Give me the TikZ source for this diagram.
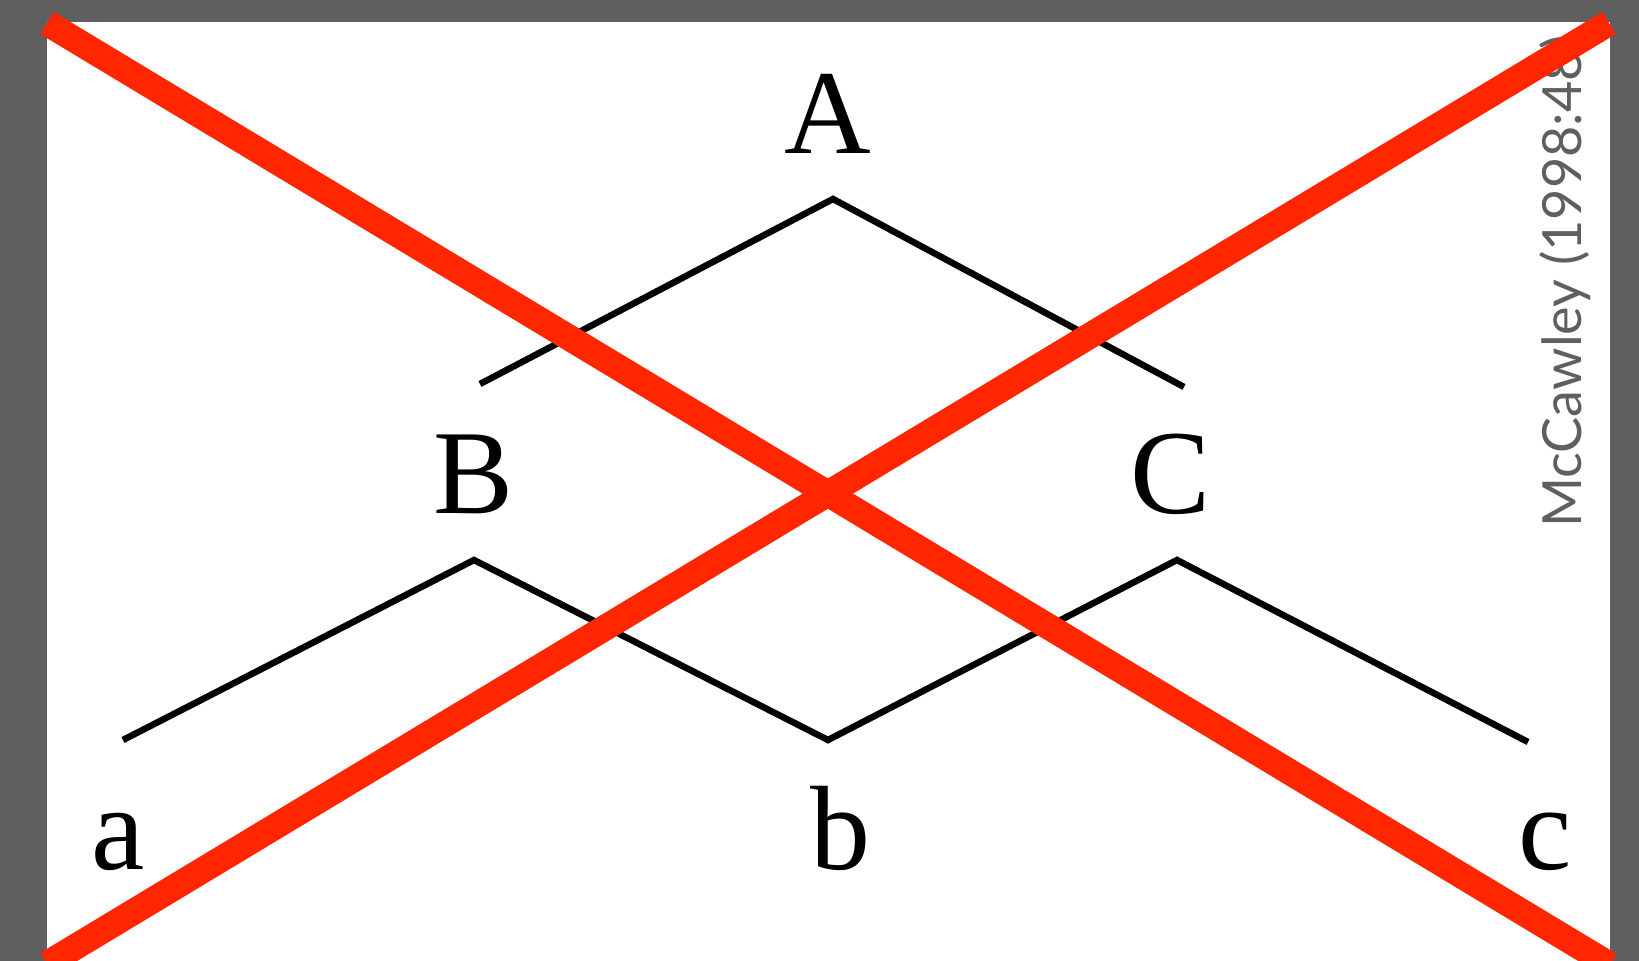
\documentclass[tikz,border=0pt]{standalone}
\usepackage{fontspec}
\setmainfont{Liberation Serif}
\newfontfamily\credfont{Lato}
\definecolor{framegray}{RGB}{95,95,95}
\definecolor{crossred}{RGB}{255,38,0}
\begin{document}
\begin{tikzpicture}[x=1pt,y=-1pt,
  lab/.style={inner sep=0pt,anchor=base,font=\fontsize{120}{122}\selectfont},
  branch/.style={line width=6.5pt,line join=miter,black},
  cross/.style={line width=26pt,crossred,line cap=butt}]
\useasboundingbox (0,0) rectangle (1639,961);
\fill[framegray] (0,0) rectangle (1639,961);
\fill[white] (47,22) rectangle (1610,961);
% labels
\node[lab] (A) at (828,153) {A};
\node[lab] (B) at (474,513) {B};
\node[lab] (C) at (1171,513) {C};
\node[lab] (a) at (118,869) {a};
\node[lab] (b) at (840,869) {b};
\node[lab] (c) at (1545,869) {c};
% tree points
\coordinate (Atop) at (833,199);
\coordinate (Aleft) at (480,384);
\coordinate (Aright) at (1184,387);
\coordinate (Btop) at (474,560);
\coordinate (aend) at (123,740);
\coordinate (bval) at (828,740);
\coordinate (Ctop) at (1177,560);
\coordinate (cend) at (1528,742);
\draw[branch] (Aleft) -- (Atop) -- (Aright);
\draw[branch] (aend) -- (Btop) -- (bval) -- (Ctop) -- (cend);
% credit
\node[rotate=90,anchor=base west,inner sep=0pt,text=framegray,
  font=\credfont\fontsize{54}{58}\selectfont] (cred) at (1581,528) {McCawley (1998:48)};
% red cross
\coordinate (x1) at (47,23);
\coordinate (x2) at (1610,965);
\coordinate (y1) at (47,964);
\coordinate (y2) at (1609,23);
\draw[cross] (x1) -- (x2);
\draw[cross] (y1) -- (y2);
\end{tikzpicture}
\end{document}
